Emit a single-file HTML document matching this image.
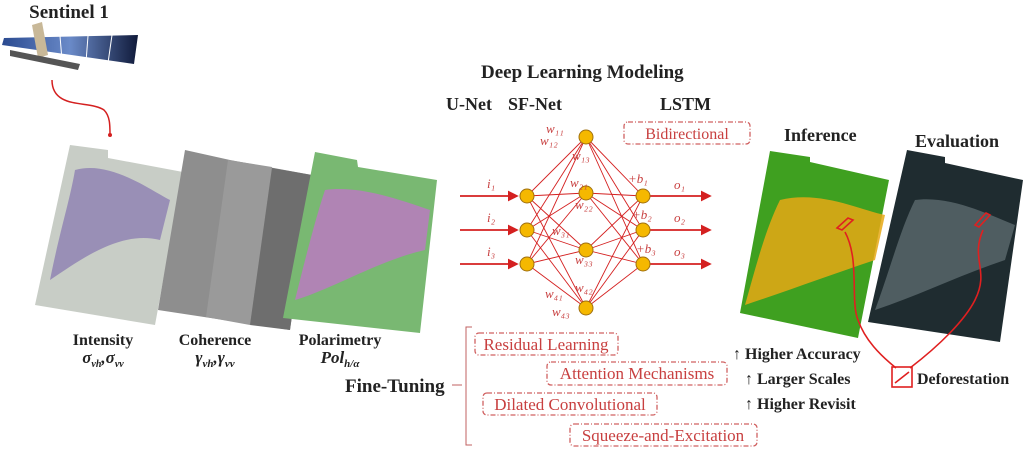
<!DOCTYPE html>
<html><head><meta charset="utf-8"><style>
html,body{margin:0;padding:0;background:#fff;}
svg{display:block;font-family:"Liberation Serif",serif;}
</style></head><body>
<svg width="1024" height="451" viewBox="0 0 1024 451" xmlns="http://www.w3.org/2000/svg">
<defs>
<marker id="ar" markerWidth="6" markerHeight="6" refX="5" refY="3" orient="auto"><path d="M0,0L6,3L0,6z" fill="#d42020"/></marker>
<linearGradient id="pan" x1="0" y1="0" x2="1" y2="0"><stop offset="0" stop-color="#2a4a90"/><stop offset="0.5" stop-color="#6a8ac8"/><stop offset="1" stop-color="#101a3a"/></linearGradient>
</defs>
<!-- Sentinel -->
<text x="69" y="18" font-size="19" font-weight="bold" text-anchor="middle" fill="#222">Sentinel 1</text>
<polygon points="4,38 138,35 134,64 2,45" fill="url(#pan)"/>
<line x1="60" y1="36" x2="62" y2="60" stroke="#fff" stroke-width="1"/>
<line x1="88" y1="36" x2="86" y2="62" stroke="#fff" stroke-width="1"/>
<line x1="112" y1="35" x2="108" y2="63" stroke="#fff" stroke-width="1"/>
<polygon points="32,25 42,22 48,55 38,58" fill="#c8b898"/>
<polygon points="10,50 80,64 78,70 10,56" fill="#555"/>
<path d="M52,80 C52,110 90,100 104,110 C110,116 110,125 110,135" fill="none" stroke="#d42020" stroke-width="1.5"/>
<circle cx="110" cy="135" r="2" fill="#d42020"/>
<!-- SAR images -->
<polygon points="70,145 108,150 108,158 183,172 155,325 35,305" fill="#c8cdc6"/>
<path d="M75,170 C110,160 150,190 170,200 L160,240 C120,230 80,260 50,280 C60,230 70,200 75,170z" fill="#8a7ab0" opacity="0.75"/>
<polygon points="185,150 230,160 312,175 290,330 158,310" fill="#8e8e8e"/>
<polygon points="228,160 272,167 250,325 206,317" fill="#9a9a9a"/>
<polygon points="272,168 312,175 290,330 250,325" fill="#6e6e6e"/>
<polygon points="315,152 357,160 358,167 437,180 420,333 283,318" fill="#79b872"/>
<path d="M325,190 C360,185 400,200 430,210 L425,250 C380,260 330,290 295,300 C305,260 315,220 325,190z" fill="#c86ed0" opacity="0.7"/>
<g font-size="16" font-weight="bold" fill="#222" text-anchor="middle">
<text x="103" y="345">Intensity</text>
<text x="215" y="345">Coherence</text>
<text x="340" y="345">Polarimetry</text>
</g>
<g font-size="17" font-weight="bold" font-style="italic" fill="#222" text-anchor="middle">
<text x="103" y="363">σ<tspan font-size="10" dy="4">vh</tspan><tspan dy="-4">,σ</tspan><tspan font-size="10" dy="4">vv</tspan></text>
<text x="215" y="363">γ<tspan font-size="11" dy="4">vh</tspan><tspan dy="-4">,γ</tspan><tspan font-size="11" dy="4">vv</tspan></text>
<text x="340" y="363">Pol<tspan font-size="11" dy="4">h/α</tspan></text>
</g>
<!-- Deep learning -->
<g font-size="18" font-weight="bold" fill="#222">
<text x="481" y="78" font-size="19">Deep Learning Modeling</text>
<text x="446" y="110">U-Net</text>
<text x="508" y="110">SF-Net</text>
<text x="660" y="110">LSTM</text>
</g>
<rect x="624" y="122" width="126" height="22" rx="4" fill="none" stroke="#d06060" stroke-width="1.3" stroke-dasharray="5,2,1,2"/>
<text x="687" y="139" font-size="16" fill="#c84040" text-anchor="middle">Bidirectional</text>
<g stroke="#d42020" stroke-width="0.9" fill="none">
<line x1="527" y1="196" x2="586" y2="137"/><line x1="527" y1="196" x2="586" y2="193"/><line x1="527" y1="196" x2="586" y2="250"/><line x1="527" y1="196" x2="586" y2="308"/>
<line x1="527" y1="230" x2="586" y2="137"/><line x1="527" y1="230" x2="586" y2="193"/><line x1="527" y1="230" x2="586" y2="250"/><line x1="527" y1="230" x2="586" y2="308"/>
<line x1="527" y1="264" x2="586" y2="137"/><line x1="527" y1="264" x2="586" y2="193"/><line x1="527" y1="264" x2="586" y2="250"/><line x1="527" y1="264" x2="586" y2="308"/>
<line x1="586" y1="137" x2="643" y2="196"/><line x1="586" y1="137" x2="643" y2="230"/><line x1="586" y1="137" x2="643" y2="264"/>
<line x1="586" y1="193" x2="643" y2="196"/><line x1="586" y1="193" x2="643" y2="230"/><line x1="586" y1="193" x2="643" y2="264"/>
<line x1="586" y1="250" x2="643" y2="196"/><line x1="586" y1="250" x2="643" y2="230"/><line x1="586" y1="250" x2="643" y2="264"/>
<line x1="586" y1="308" x2="643" y2="196"/><line x1="586" y1="308" x2="643" y2="230"/><line x1="586" y1="308" x2="643" y2="264"/>
</g>
<g stroke="#d42020" stroke-width="1.8">
<line x1="460" y1="196" x2="517" y2="196" marker-end="url(#ar)"/>
<line x1="460" y1="230" x2="517" y2="230" marker-end="url(#ar)"/>
<line x1="460" y1="264" x2="517" y2="264" marker-end="url(#ar)"/>
<line x1="650" y1="196" x2="710" y2="196" marker-end="url(#ar)"/>
<line x1="650" y1="230" x2="710" y2="230" marker-end="url(#ar)"/>
<line x1="650" y1="264" x2="710" y2="264" marker-end="url(#ar)"/>
</g>
<g fill="#f5b800" stroke="#a07010" stroke-width="1">
<circle cx="527" cy="196" r="7"/><circle cx="527" cy="230" r="7"/><circle cx="527" cy="264" r="7"/>
<circle cx="586" cy="137" r="7"/><circle cx="586" cy="193" r="7"/><circle cx="586" cy="250" r="7"/><circle cx="586" cy="308" r="7"/>
<circle cx="643" cy="196" r="7"/><circle cx="643" cy="230" r="7"/><circle cx="643" cy="264" r="7"/>
</g>
<g font-size="13" font-style="italic" fill="#c84040">
<text x="487" y="188">i₁</text><text x="487" y="222">i₂</text><text x="487" y="256">i₃</text>
<text x="546" y="133">w₁₁</text><text x="540" y="145">w₁₂</text><text x="572" y="160">w₁₃</text>
<text x="570" y="187">w₂₁</text><text x="575" y="209">w₂₂</text>
<text x="552" y="235">w₃₁</text><text x="575" y="264">w₃₃</text>
<text x="545" y="298">w₄₁</text><text x="575" y="292">w₄₂</text><text x="552" y="316">w₄₃</text>
<text x="628" y="183">+b₁</text><text x="632" y="219">+b₂</text><text x="636" y="253">+b₃</text>
<text x="674" y="189">o₁</text><text x="674" y="222">o₂</text><text x="674" y="256">o₃</text>
</g>
<!-- Fine-tuning -->
<text x="345" y="392" font-size="19" font-weight="bold" fill="#222">Fine-Tuning</text>
<line x1="452" y1="385" x2="462" y2="385" stroke="#c06060" stroke-width="1"/>
<path d="M472,327 L466,327 L466,445 L472,445" fill="none" stroke="#c06060" stroke-width="1"/>
<g fill="none" stroke="#d06060" stroke-width="1.3" stroke-dasharray="5,2,1,2">
<rect x="475" y="333" width="143" height="22" rx="4"/>
<rect x="547" y="362" width="180" height="23" rx="4"/>
<rect x="483" y="393" width="174" height="22" rx="4"/>
<rect x="570" y="424" width="187" height="22" rx="4"/>
</g>
<g font-size="17" fill="#c84040" text-anchor="middle">
<text x="546" y="350">Residual Learning</text>
<text x="637" y="379">Attention Mechanisms</text>
<text x="570" y="410">Dilated Convolutional</text>
<text x="663" y="441">Squeeze-and-Excitation</text>
</g>
<g font-size="16" font-weight="bold" fill="#222">
<text x="733" y="359">↑ Higher Accuracy</text>
<text x="745" y="384">↑ Larger Scales</text>
<text x="745" y="409">↑ Higher Revisit</text>
<text x="784" y="141" font-size="18">Inference</text>
<text x="915" y="147" font-size="18">Evaluation</text>
<text x="917" y="384">Deforestation</text>
</g>
<!-- Result images -->
<polygon points="770,151 810,157 810,162 889,180 858,338 740,313" fill="#3fa020"/>
<path d="M780,200 C820,190 860,210 885,215 L875,260 C830,275 790,290 745,305 C755,270 765,230 780,200z" fill="#e6a815" opacity="0.85"/>
<polygon points="907,150 945,157 945,163 1023,180 1000,342 868,322" fill="#1f2c30"/>
<path d="M915,200 C950,195 990,215 1015,225 L1005,260 C960,275 920,295 875,310 C890,270 900,230 915,200z" fill="#6f7f82" opacity="0.6"/>
<g fill="none" stroke="#e02020" stroke-width="1.6">
<path d="M837,228 L848,218 L853,220 L842,230z"/>
<path d="M975,225 L986,213 L990,215 L979,227z"/>
<rect x="892" y="367" width="20" height="20"/>
<line x1="895" y1="383" x2="909" y2="372"/>
<path d="M845,232 C860,260 850,300 858,320 C865,340 880,355 896,368"/>
<path d="M983,230 C970,260 990,270 975,300 C965,320 940,345 910,368"/>
</g>
</svg>
</body></html>
